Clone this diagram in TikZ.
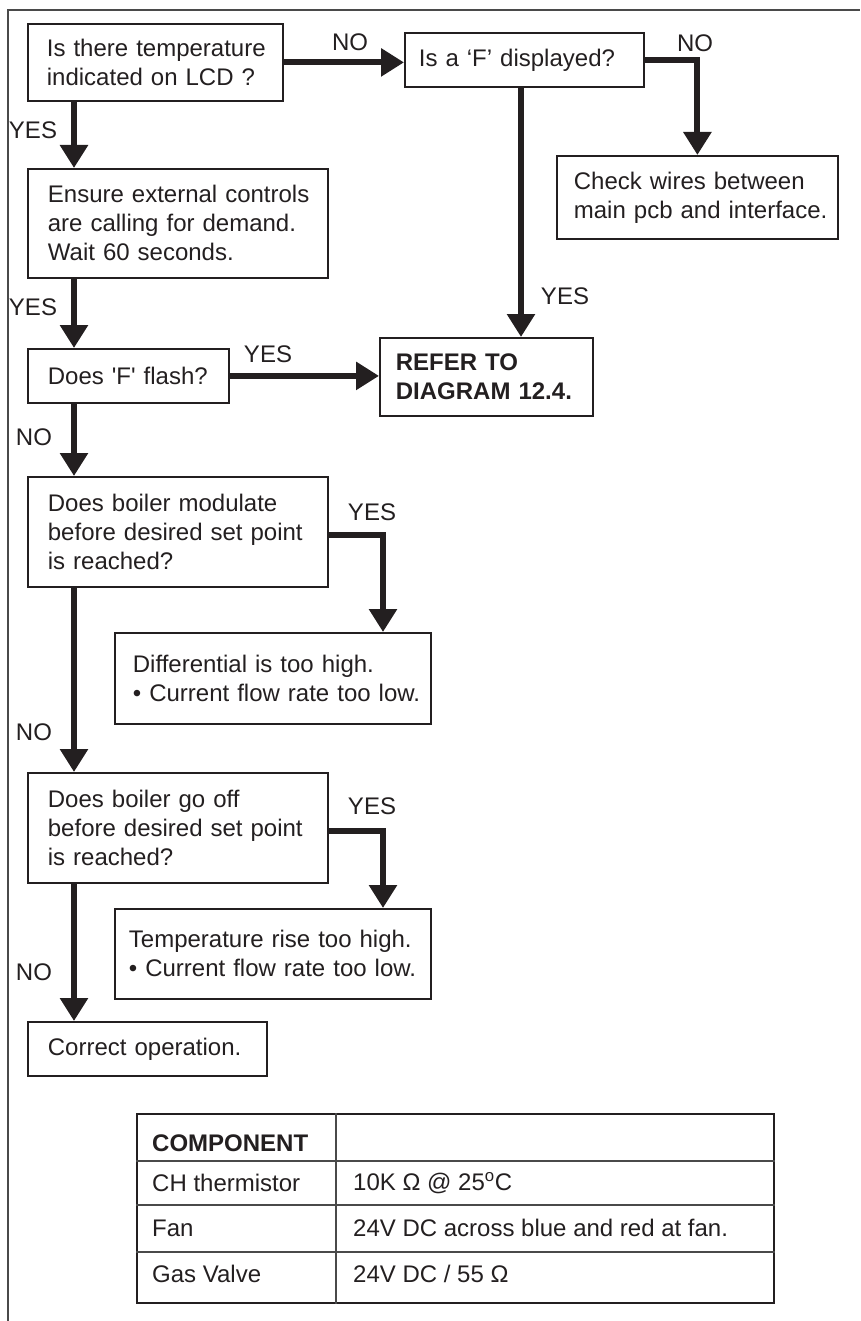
\documentclass[tikz,border=0pt]{standalone}
\usepackage{fontspec}
\setmainfont{Liberation Sans}
\usepackage{tikz}
\usetikzlibrary{arrows.meta,positioning,calc}
\definecolor{ink}{HTML}{231F20}
\definecolor{frameGray}{HTML}{4A4A4A}

\begin{document}
\begin{tikzpicture}[x=1pt,y=-1pt,font=\fontsize{24}{29}\selectfont,color=ink,
  box/.style={draw=ink,line width=1.8pt,anchor=north west,align=left,inner ysep=0pt,
    execute at begin node={\hyphenpenalty=10000\rightskip=0pt plus 1fil minus 40pt}},
  flow/.style={draw=ink,line width=6pt,-{Triangle[length=23pt,width=27pt]}},
  lbl/.style={inner sep=0pt},
  cell/.style={anchor=west,inner sep=0pt},
  tabrule/.style={draw=frameGray,line width=1.2pt}]
\useasboundingbox (0,0) rectangle (860,1321);
% page frame
\draw[frameGray,line width=1.3pt] (8,1321) -- (8,10) -- (860,10);
% columns of the connectors
\coordinate (colL) at (74,0);
\coordinate (colF) at (521,0);
\coordinate (colR) at (383,0);
% boxes
\node[box,inner xsep=19pt,text width=217pt,minimum height=77pt] (q1) at (27,23) {Is there temperature\\indicated on LCD ?};
\node[box,inner xsep=14pt,text width=211pt,minimum height=54pt] (q2) at (404,32) {Is a ‘F’ displayed?};
\node[box,inner xsep=17pt,text width=247pt,minimum height=83pt] (checkw) at (556,155) {Check wires between\\main pcb and interface.};
\node[box,inner xsep=20pt,text width=260pt,minimum height=109pt] (ensure) at (27,168) {Ensure external controls\\are calling for demand.\\Wait 60 seconds.};
\node[box,inner xsep=20pt,text width=161pt,minimum height=54pt] (flash) at (27,348) {Does \textquotesingle F\textquotesingle{} flash?};
\node[box,inner xsep=16pt,text width=181pt,minimum height=78pt,font=\fontsize{24}{29}\selectfont\bfseries] (refer) at (379,337) {REFER TO\\DIAGRAM 12.4.};
\node[box,inner xsep=20pt,text width=260pt,minimum height=110pt] (mod) at (27,476) {Does boiler modulate\\before desired set point\\is reached?};
\node[box,inner xsep=18pt,text width=280pt,minimum height=91pt] (diff) at (114,632) {Differential is too high.\\\textbullet\ Current flow rate too low.};
\node[box,inner xsep=20pt,text width=260pt,minimum height=110pt] (off) at (27,772) {Does boiler go off\\before desired set point\\is reached?};
\node[box,inner xsep=14pt,text width=288pt,minimum height=90pt] (temp) at (114,908) {Temperature rise too high.\\\textbullet\ Current flow rate too low.};
\node[box,inner xsep=20pt,text width=199pt,minimum height=54pt] (correct) at (27,1021) {Correct operation.};
% connectors
\draw[flow] (q1.east) -- (q1.east -| q2.west);
\draw[flow] (q2.east) -| (checkw.north);
\draw[flow] (q2.south -| colF) -- (refer.north -| colF);
\draw[flow] (q1.south -| colL) -- (ensure.north -| colL);
\draw[flow] (ensure.south -| colL) -- (flash.north -| colL);
\draw[flow] (flash.east) -- (flash.east -| refer.west);
\draw[flow] (flash.south -| colL) -- (mod.north -| colL);
\draw[flow] ([yshift=-3pt]mod.east) -| (diff.north -| colR);
\draw[flow] (mod.south -| colL) -- (off.north -| colL);
\draw[flow] ([yshift=-3pt]off.east) -| (temp.north -| colR);
\draw[flow] (off.south -| colL) -- (correct.north -| colL);
% labels
\node[lbl] (noA) at (350,42) {NO};
\node[lbl] (noB) at (695,43) {NO};
\node[lbl] (yesA) at (33,130) {YES};
\node[lbl] (yesB) at (33,307) {YES};
\node[lbl] (yesC) at (565,296) {YES};
\node[lbl] (yesD) at (268,354) {YES};
\node[lbl] (noC) at (34,437) {NO};
\node[lbl] (yesE) at (372,512) {YES};
\node[lbl] (noD) at (34,732) {NO};
\node[lbl] (yesF) at (372,806) {YES};
\node[lbl] (noE) at (34,972) {NO};
% component table
\node[draw=ink,line width=1.8pt,anchor=north west,minimum width=637pt,minimum height=189pt,inner sep=0pt] (tab) at (136,1113) {};
\draw[tabrule] (tab.north -| 336,0) -- (tab.south -| 336,0);
\foreach \r in {1161,1205,1252}
  \draw[tabrule] (tab.west |- 0,\r) -- (tab.east |- 0,\r);
\node[cell] (hdr) at (152,1143) {\bfseries COMPONENT};
\node[cell] (ch) at (152,1183) {CH thermistor};
\node[cell] (chv) at (353,1183) {10K Ω @ 25\textsuperscript{o}C};
\node[cell] (fan) at (152,1228) {Fan};
\node[cell] (fanv) at (353,1228) {24V DC across blue and red at fan.};
\node[cell] (gas) at (152,1274) {Gas Valve};
\node[cell] (gasv) at (353,1274) {24V DC / 55 Ω};
\end{tikzpicture}
\end{document}
